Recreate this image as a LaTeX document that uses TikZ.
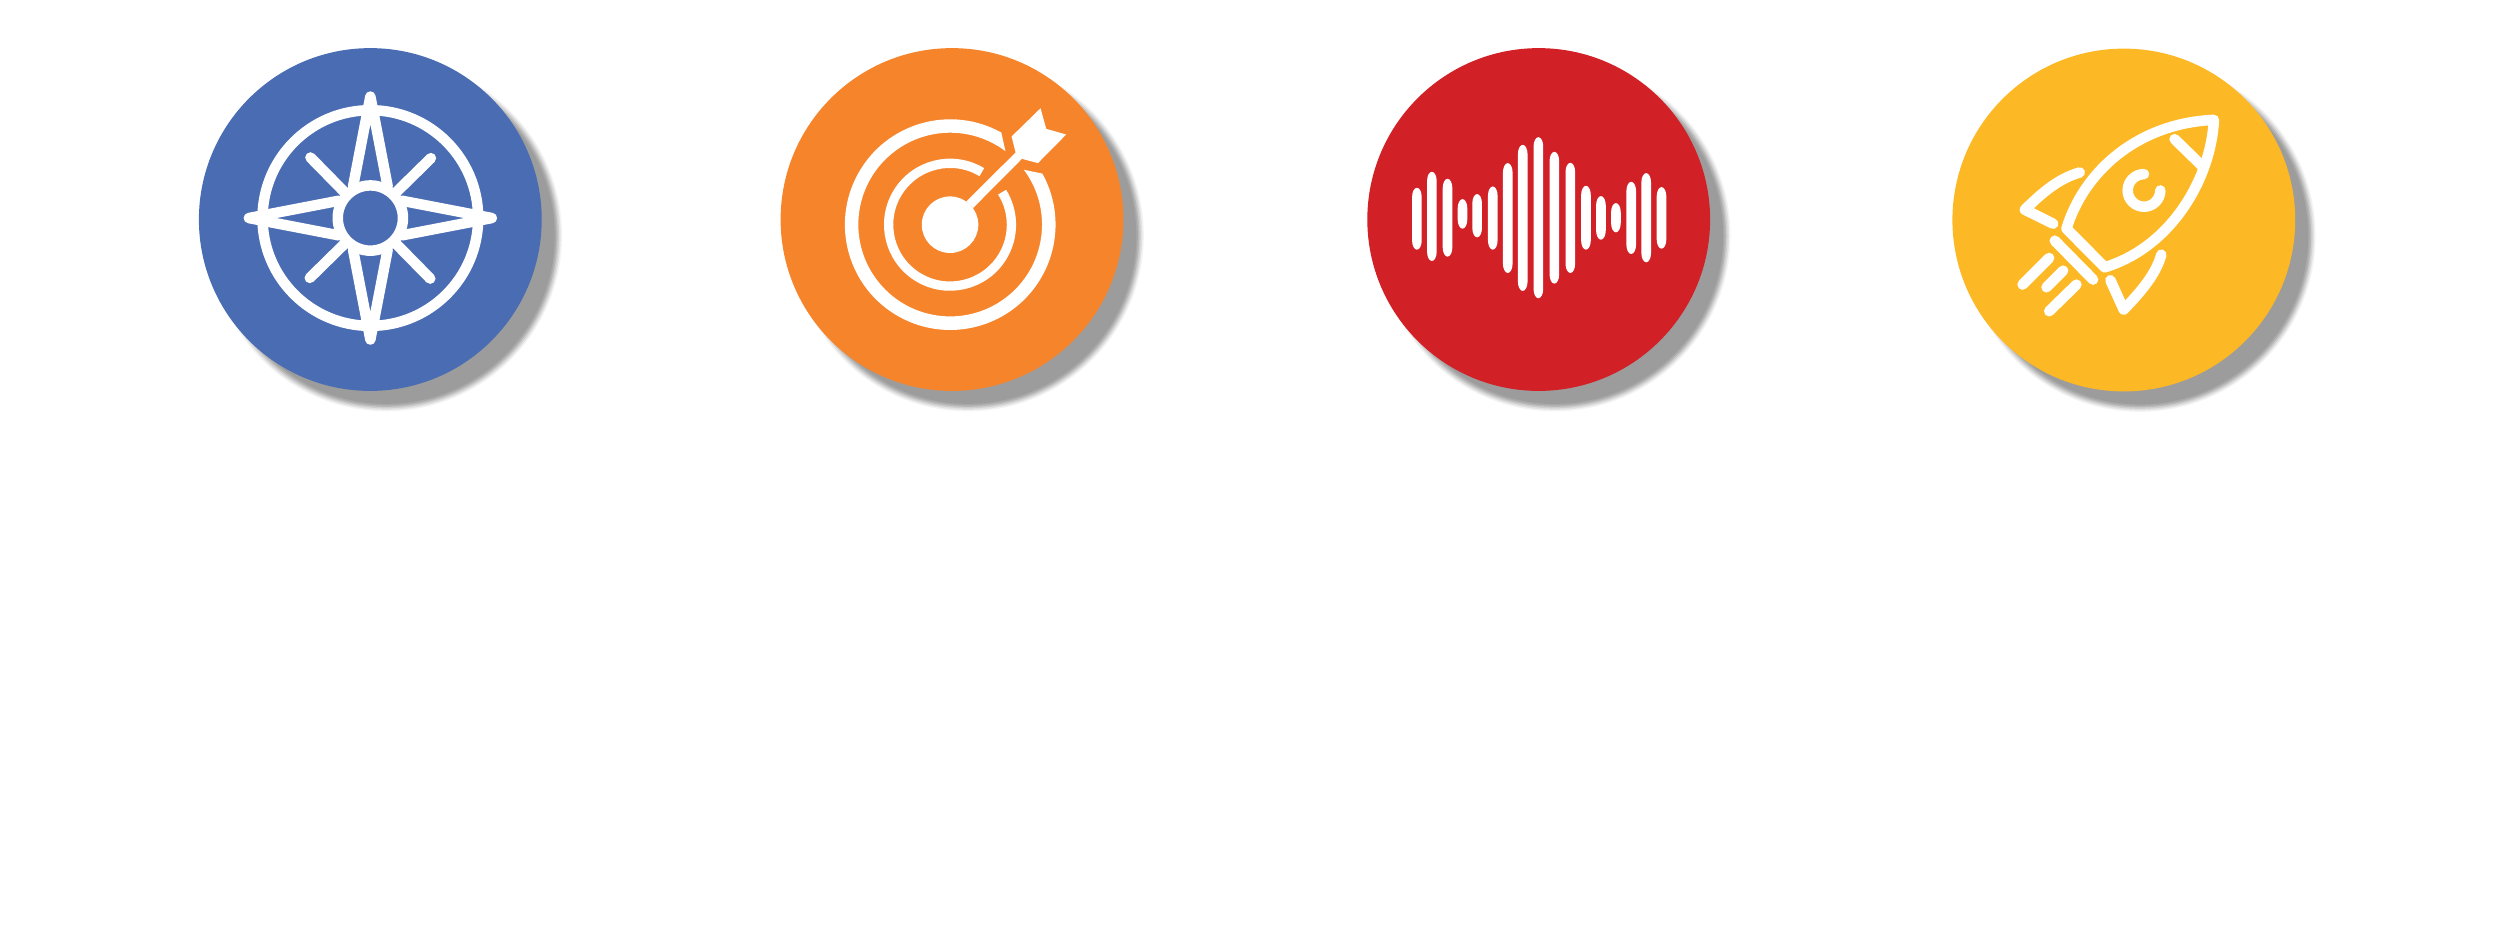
\documentclass[tikz,border=0pt]{standalone}
\usepackage{tikz}
\definecolor{compassblue}{HTML}{4A6CB2}
\definecolor{targetorange}{HTML}{F6842B}
\definecolor{soundred}{HTML}{D22027}
\definecolor{rocketyellow}{HTML}{FDB825}
\definecolor{shadowgray}{HTML}{9C9C9C}
\begin{document}
\begin{tikzpicture}[x=0.01cm, y=-0.01cm]
    \tikzstyle{disc}=[circle, inner sep=0pt, minimum size=3.426cm]
    \tikzstyle{wire}=[white, line cap=round, line join=round, line width=1.05mm]
    \tikzstyle{crop}=[x=0.003333cm, y=-0.003333cm]
    \useasboundingbox (0,0) rectangle (2500,938);
    \foreach \nm/\cx/\cy/\col in {compass/370.3/219.5/compassblue, target/952/219.5/targetorange, sound/1538.7/219.5/soundred, rocket/2123.8/220/rocketyellow} {
        \foreach \g/\dr in {shadowgray!12/4.5, shadowgray!30/3, shadowgray!50/1.5, shadowgray!72/0, shadowgray!88/-1.5, shadowgray/-3}
            \fill[\g] (\cx+16,\cy+16) circle (171.3+\dr);
        \node [disc, fill=\col] (\nm) at (\cx,\cy) {};
    }
    \begin{scope}[shift={(180,30)}, crop]
        \draw[wire] (572,565) circle (324);
        \foreach \a in {0,90,180,270}
            \draw[wire, rotate around={\a:(572,565)}] (520,470) -- (572,200) -- (624,470);
        \foreach \a in {0,90,180,270}
            \draw[wire, rotate around={\a:(572,565)}] (392,383) -- (500,493);
        \draw[wire, fill=compassblue] (572,565) circle (98);
    \end{scope}
    \begin{scope}[shift={(760,30)}, crop]
        \fill[white] (571,585) circle (85);
        \fill[white] (620,515) -- (768,368) -- (756,320) -- (843,235) -- (860,297) -- (920,314) -- (835,400) -- (787,387) -- (640,535) -- cycle;
        \fill[white] (725,308) arc (-61:-389:316.5) -- (793,420) arc (-396.6:-53:276) -- cycle;
        \draw[white, line width=0.93mm] (571,585) ++(-58.8:184.5) arc (-58.8:-392:184.5);
    \end{scope}
    \begin{scope}[shift={(1350,30)}, crop]
        \foreach \x/\t/\b in {201/474/660, 246/426/694, 293/447/681, 338/508/597, 382/493/623, 429/470/660, 474/400/730, 519/345/784, 566/322/806, 614/366/762, 662/399/730, 709/468/660, 754/499/630, 799/520/608, 845/456/673, 890/430/698, 936/472/657}
            \fill[white] (\x-14.5,\t+28) arc (180:360:14.5 and 28) -- (\x+14.5,\b-28) arc (0:180:14.5 and 28) -- cycle;
    \end{scope}
    \begin{scope}[shift={(1930,30)}, crop]
        \draw[wire] (410,597) .. controls (460,430) and (620,280) .. (853,270) .. controls (845,440) and (730,650) .. (525,713) -- cycle;
        \draw[wire] (735,328) -- (815,406);
        \draw[wire] (643,433) arc (-90:-360:49);
        \draw[wire] (450,428) .. controls (390,445) and (340,485) .. (285,540) -- (370,582);
        \draw[wire] (695,675) .. controls (680,730) and (640,780) .. (582,840) -- (542,752);
        \draw[wire] (375,633) -- (490,750);
        \draw[wire] (358,685) -- (278,765);
        \draw[wire] (400,723) -- (350,773);
        \draw[wire] (440,765) -- (358,845);
    \end{scope}
\end{tikzpicture}
\end{document}
